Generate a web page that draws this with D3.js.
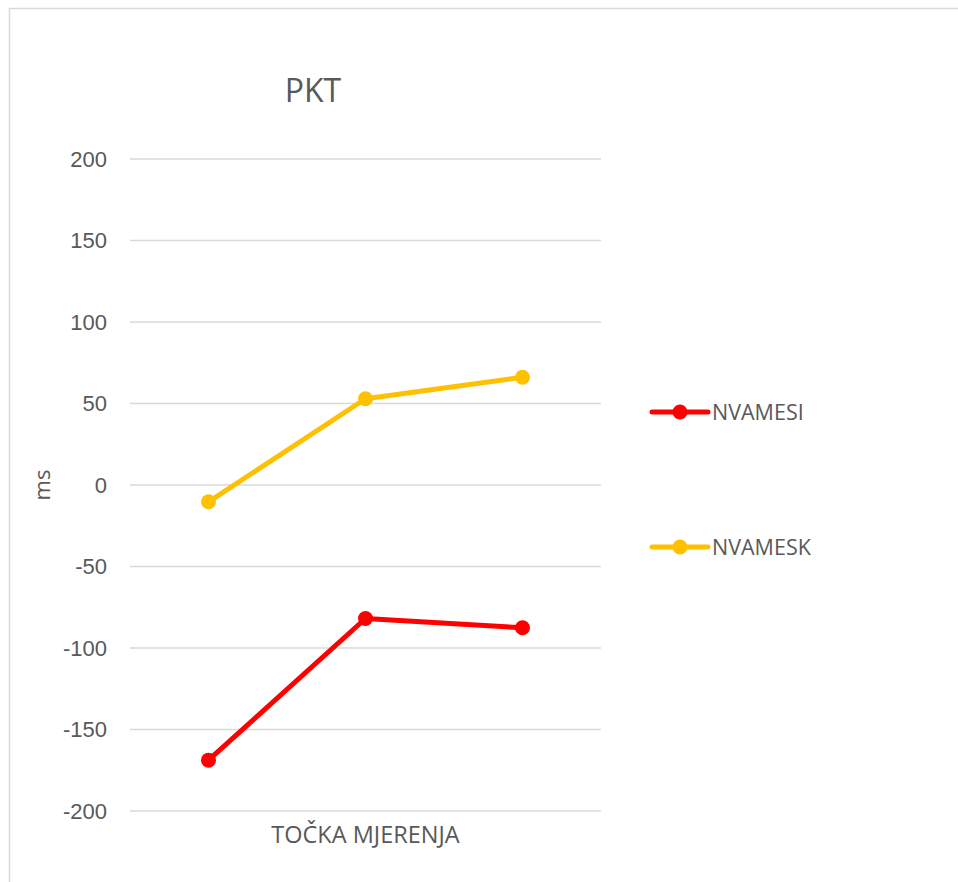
<!DOCTYPE html>
<meta charset="utf-8">
<style>
body { margin: 0; background: #fff; }
svg { display: block; font-family: "Open Sans", "Noto Sans", sans-serif; }
.axis text { fill: #595959; font-size: 22px; }
.grid line { stroke: #d9d9d9; stroke-width: 1.5; }
</style>
<svg width="958" height="882"></svg>
<script src="https://d3js.org/d3.v7.min.js"></script>
<script>

// chart data
var categories = ["1", "2", "3"];
var nvamesi = [-168.8, -81.9, -87.6];
var nvamesk = [-10.3, 52.9, 66.1];
var yTicks = [-200, -150, -100, -50, 0, 50, 100, 150, 200];
var seriesNames = ["NVAMESI", "NVAMESK"];
var seriesColors = ["#ff0000", "#ffc000"];

var svg = d3.select("svg"),
    margin = {top: 159, right: 357, bottom: 71, left: 130},
    width = +svg.attr("width") - margin.left - margin.right,
    height = +svg.attr("height") - margin.top - margin.bottom;

// outer border of the chart area
svg.append("rect")
    .attr("x", 9.5).attr("y", 8.5)
    .attr("width", 980).attr("height", 900)
    .attr("fill", "none")
    .attr("stroke", "#d9d9d9")
    .attr("stroke-width", 1.5);

var g = svg.append("g").attr("transform", "translate(" + margin.left + "," + margin.top + ")");

var x = d3.scaleBand()
    .domain(categories)
    .range([0, width]);

var y = d3.scaleLinear()
    .domain([-200, 200])
    .range([height, 0]);

// gridlines
g.append("g")
    .attr("class", "grid")
    .selectAll("line")
    .data(yTicks)
    .enter().append("line")
    .attr("x1", 0).attr("x2", width)
    .attr("y1", function(d) { return y(d); })
    .attr("y2", function(d) { return y(d); });

// y axis (plain hyphen for negatives, like the original)
var yAxis = g.append("g")
    .attr("class", "axis")
    .call(d3.axisLeft(y).tickValues(yTicks).tickSize(0).tickPadding(23)
        .tickFormat(function(d) { return String(d); }));
yAxis.select(".domain").remove();

g.append("text")
    .attr("transform", "translate(-88," + (height / 2) + ") rotate(-90)")
    .attr("text-anchor", "middle")
    .attr("dy", "0.35em")
    .attr("fill", "#595959")
    .style("font-size", "22px")
    .text("ms");

g.append("text")
    .attr("x", width / 2)
    .attr("y", height + 24)
    .attr("text-anchor", "middle")
    .attr("dy", "0.35em")
    .attr("fill", "#595959")
    .style("font-size", "23.5px")
    .text("TOČKA MJERENJA");

// title
svg.append("text")
    .attr("x", 313)
    .attr("y", 102)
    .attr("text-anchor", "middle")
    .attr("fill", "#595959")
    .style("font-size", "32px")
    .text("PKT");

var series = [nvamesi, nvamesk];

var line = d3.line()
    .x(function(d, i) { return x(categories[i]) + x.bandwidth() / 2; })
    .y(function(d) { return y(d); });

series.forEach(function(vals, s) {
    g.append("path")
        .datum(vals)
        .attr("fill", "none")
        .attr("stroke", seriesColors[s])
        .attr("stroke-width", 5)
        .attr("stroke-linejoin", "round")
        .attr("stroke-linecap", "round")
        .attr("d", line);
    g.selectAll(".dot" + s)
        .data(vals)
        .enter().append("circle")
        .attr("cx", function(d, i) { return x(categories[i]) + x.bandwidth() / 2; })
        .attr("cy", function(d) { return y(d); })
        .attr("r", 7.5)
        .attr("fill", seriesColors[s]);
});

// legend
var legend = svg.append("g")
    .selectAll("g")
    .data(seriesNames)
    .enter().append("g")
    .attr("transform", function(d, i) { return "translate(652," + (412 + i * 135) + ")"; });

legend.append("line")
    .attr("x1", 0).attr("x2", 56)
    .attr("stroke", function(d, i) { return seriesColors[i]; })
    .attr("stroke-width", 5)
    .attr("stroke-linecap", "round");
legend.append("circle")
    .attr("cx", 28)
    .attr("r", 7.5)
    .attr("fill", function(d, i) { return seriesColors[i]; });
legend.append("text")
    .attr("x", 60)
    .attr("dy", "0.35em")
    .attr("fill", "#595959")
    .style("font-size", "21.5px")
    .text(function(d) { return d; });

</script>
